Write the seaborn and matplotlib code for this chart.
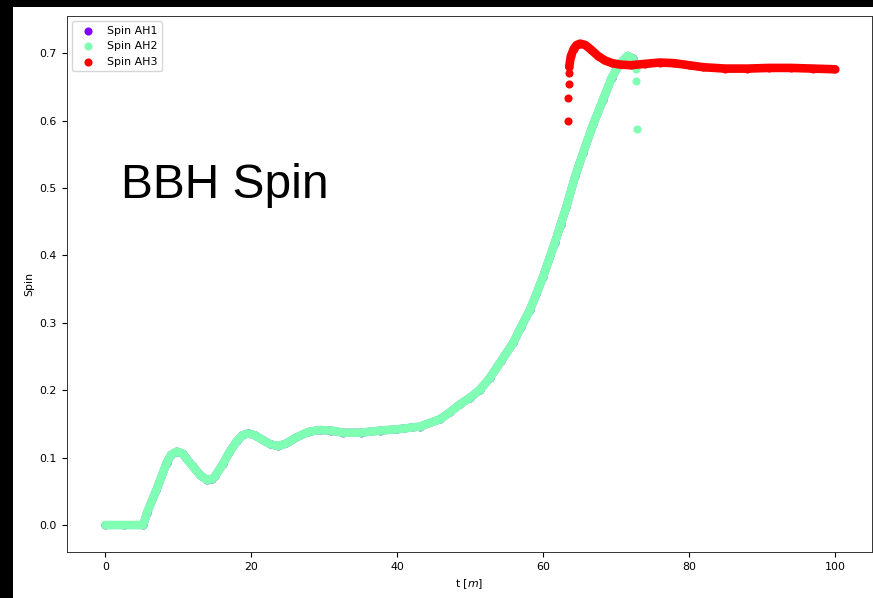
import matplotlib
matplotlib.use("Agg")
import matplotlib.pyplot as plt
from matplotlib.patches import Rectangle
import seaborn as sns

# ---- data ----
t_ah2 = [0.0, 2.5, 5.2, 5.7, 7.0, 8.4, 9.0, 9.8, 10.6, 11.0, 12.0, 13.0, 13.9, 14.6,
         15.0, 16.1, 17.0, 18.0, 18.8, 19.6, 20.5, 21.6, 22.6, 23.7, 24.8, 26.2,
         27.8, 29.4, 31.0, 32.6, 35.0, 37.6, 40.0, 43.1, 45.9, 47.2, 48.6, 50.0,
         51.3, 52.7, 54.3, 55.9, 57.0, 58.2, 59.1, 60.0, 61.6, 62.4, 63.2, 64.4,
         65.5, 66.9, 68.2, 69.4, 70.5, 71.6, 72.3]
spin_ah2 = [0.0, 0.0, 0.0, 0.018, 0.052, 0.092, 0.104, 0.109, 0.106, 0.100, 0.087,
            0.074, 0.067, 0.068, 0.072, 0.090, 0.108, 0.124, 0.133, 0.136, 0.133,
            0.126, 0.120, 0.117, 0.121, 0.130, 0.138, 0.141, 0.140, 0.137, 0.137,
            0.140, 0.142, 0.146, 0.157, 0.167, 0.179, 0.189, 0.200, 0.218, 0.244,
            0.270, 0.294, 0.319, 0.343, 0.368, 0.418, 0.445, 0.472, 0.517, 0.552,
            0.595, 0.630, 0.663, 0.684, 0.696, 0.692]
t_ah2_tail = [72.8, 72.8, 72.9]
spin_ah2_tail = [0.676, 0.658, 0.588]

t_ah1 = list(t_ah2)
spin_ah1 = list(spin_ah2)

t_ah3_head = [63.4, 63.4, 63.5, 63.5]
spin_ah3_head = [0.600, 0.634, 0.654, 0.670]
t_ah3 = [63.6, 63.8, 64.2, 64.6, 65.1, 65.8, 66.6, 67.5, 68.5, 69.5, 70.5, 72.0,
         74.0, 76.0, 78.0, 80.0, 82.0, 85.0, 88.0, 91.0, 94.0, 97.0, 100.0]
spin_ah3 = [0.680, 0.695, 0.706, 0.712, 0.714, 0.712, 0.705, 0.696, 0.689, 0.685,
            0.683, 0.682, 0.684, 0.686, 0.685, 0.682, 0.679, 0.677, 0.677, 0.678,
            0.678, 0.677, 0.676]

labels = ["Spin AH1", "Spin AH2", "Spin AH3"]
colors = ["#8000ff", "#80ffb4", "#ff0000"]

# ---- figure ----
W, H = 873, 598
fs = 7.9
plt.rcParams.update({
    "font.family": ["DejaVu Sans"],
    "font.size": fs,
    "xtick.major.size": 3.5,
    "ytick.major.size": 3.5,
    "axes.linewidth": 0.7,
})

fig = plt.figure(figsize=(W / 100, H / 100), dpi=100, facecolor="black")
fig.add_artist(Rectangle((13 / W, 0), 1 - 13 / W, 1 - 7 / H, transform=fig.transFigure,
                         facecolor="white", edgecolor="none", zorder=-10))

ax = fig.add_axes([66.7 / W, (H - 552) / H, (872 - 66.7) / W, (552 - 16) / H])

dot_s = 34
lw = 6.2

# AH1 (hidden below AH2)
sns.lineplot(x=t_ah1, y=spin_ah1, ax=ax, color=colors[0], linewidth=lw - 0.4,
             estimator=None, sort=False, legend=False, solid_capstyle="round",
             solid_joinstyle="round")
sns.scatterplot(x=t_ah1, y=spin_ah1, ax=ax, color=colors[0], s=dot_s, linewidth=0,
                label=labels[0])

# AH2
sns.lineplot(x=t_ah2, y=spin_ah2, ax=ax, color=colors[1], linewidth=lw,
             estimator=None, sort=False, legend=False, solid_capstyle="round",
             solid_joinstyle="round")
sns.scatterplot(x=t_ah2, y=spin_ah2, ax=ax, color=colors[1], s=dot_s, linewidth=0,
                label=labels[1])
sns.scatterplot(x=t_ah2_tail, y=spin_ah2_tail, ax=ax, color=colors[1], s=dot_s,
                linewidth=0)

# AH3
sns.lineplot(x=t_ah3, y=spin_ah3, ax=ax, color=colors[2], linewidth=lw,
             estimator=None, sort=False, legend=False, solid_capstyle="round",
             solid_joinstyle="round")
sns.scatterplot(x=t_ah3, y=spin_ah3, ax=ax, color=colors[2], s=dot_s, linewidth=0,
                label=labels[2])
sns.scatterplot(x=t_ah3_head, y=spin_ah3_head, ax=ax, color=colors[2], s=dot_s,
                linewidth=0)

ax.set_xlim(-5.3, 105.1)
ax.set_ylim(-0.040, 0.755)
ax.set_xticks([0, 20, 40, 60, 80, 100])
ax.set_yticks([0.0, 0.1, 0.2, 0.3, 0.4, 0.5, 0.6, 0.7])
ax.set_xlabel("t [$m$]", fontsize=fs)
ax.set_ylabel("Spin", fontsize=fs)
for sp in ax.spines.values():
    sp.set_color("#333333")

handles, labs = ax.get_legend_handles_labels()
ax.legend(handles[:3], labs[:3], loc="upper left", fontsize=fs)

fig.text(121 / W, (H - 198.3) / H, "BBH Spin", fontsize=34.5, family=["Liberation Sans"],
         ha="left", va="baseline", color="black")

fig.savefig("out.png", dpi=100, facecolor=fig.get_facecolor())
